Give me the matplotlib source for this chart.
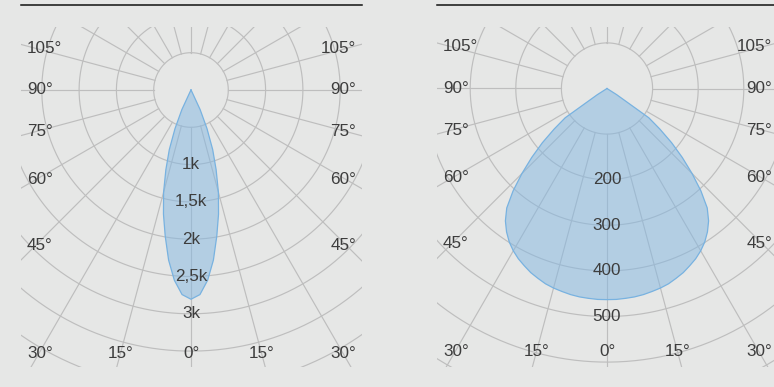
import numpy as np
import matplotlib
matplotlib.use("Agg")
import matplotlib.pyplot as plt
from matplotlib.lines import Line2D

# ---------------- data ----------------
left_angles = [0, 2.5, 5, 7.5, 10, 12.5, 15, 17.5, 20, 22.5, 25, 27.5, 30, 45, 60, 75, 90]
left_cd = [2805, 2745, 2560, 2300, 1990, 1705, 1420, 1120, 850, 560, 290, 20, 0, 0, 0, 0, 0]
left_rings = [500, 1000, 1500, 2000, 2500, 3000, 3500, 4000, 4500, 5000]
left_ring_labels = ["", "1k", "1,5k", "2k", "2,5k", "3k", "", "", "", ""]

right_angles = [0, 2.5, 5, 7.5, 10, 12.5, 15, 17.5, 20, 22.5, 25, 27.5, 30, 32.5,
                35, 37.5, 40, 42.5, 45, 47.5, 50, 52.5, 55, 57.5, 60, 75, 90]
right_cd = [463, 463, 462, 461, 459, 456, 453, 449, 443, 437, 429, 421, 411, 399,
            384, 366, 342, 305, 264, 224, 185, 146, 112, 25, 0, 0, 0]
right_rings = [100, 200, 300, 400, 500, 600, 700, 800]
right_ring_labels = ["", "200", "300", "400", "500", "", "", ""]

side_angle_labels = [105, 90, 75, 60, 45, 30]
bottom_angle_labels = [15, 0]

# ---------------- style ----------------
W, H = 774, 387
BG = "#e6e7e6"
GRID = "#bebebe"
FILL = "#82b7e2"
EDGE = "#78b2e0"
TXT = "#3d3d3d"
FONT = "Liberation Sans"
FS = 12.3

fig = plt.figure(figsize=(W / 100, H / 100), dpi=100, facecolor=BG)


def panel(x0, x1, cx, cy, s, angles, values, rings, ring_labels, line_x1):
    y0, y1 = 27, 367
    ax = fig.add_axes([x0 / W, 1 - y1 / H, (x1 - x0) / W, (y1 - y0) / H])
    ax.set_facecolor(BG)
    ax.set_xlim(-(cx - x0) / s, (x1 - cx) / s)
    ax.set_ylim(-(y1 - cy) / s, (cy - y0) / s)
    ax.axis("off")

    # rings
    t = np.linspace(0, 2 * np.pi, 400)
    for r in rings:
        ax.plot(r * np.sin(t), r * np.cos(t), color=GRID, lw=0.85, zorder=1)
    # spokes every 15 deg, starting at inner ring
    rin, rout = rings[0], rings[-1] * 1.5
    for a in range(0, 360, 15):
        th = np.radians(a)
        ax.plot([rin * np.sin(th), rout * np.sin(th)],
                [-rin * np.cos(th), -rout * np.cos(th)],
                color=GRID, lw=0.85, zorder=1)

    # light distribution curve (symmetric)
    ang = np.radians(np.array(angles, dtype=float))
    val = np.array(values, dtype=float)
    full_ang = np.concatenate([-ang[::-1], ang[1:]])
    full_val = np.concatenate([val[::-1], val[1:]])
    xs = full_val * np.sin(full_ang)
    ys = -full_val * np.cos(full_ang)
    ax.fill(xs, ys, color=FILL, alpha=0.5, lw=0, zorder=2)
    ax.plot(np.append(xs, xs[0]), np.append(ys, ys[0]), color=EDGE, lw=0.9,
            zorder=3, solid_joinstyle="round")

    # ring value labels
    for r, lab in zip(rings, ring_labels):
        if lab:
            ax.text(0, -r, lab, ha="center", va="center", fontsize=FS,
                    family=FONT, color=TXT, zorder=4)

    # angle labels (pixel layout converted to data units)
    for a in side_angle_labels:
        if a >= 45:
            dy = 155 / np.tan(np.radians(a))
        else:
            dy = 263
        for ha, dx in (("left", -164), ("right", 165)):
            ax.text(dx / s, -dy / s, f"{a}°", ha=ha, va="center",
                    fontsize=FS, family=FONT, color=TXT, clip_on=False, zorder=4)
    for a in bottom_angle_labels:
        dx = 263 * np.tan(np.radians(a))
        for side in ((-1, 1) if a else (1,)):
            ax.text(side * dx / s, -263 / s, f"{a}°", ha="center", va="center",
                    fontsize=FS, family=FONT, color=TXT, clip_on=False, zorder=4)

    # top rule
    fig.add_artist(Line2D([x0 / W, line_x1 / W], [1 - 4.5 / H] * 2,
                          color="#111111", lw=1.1))


panel(21, 362, 191, 90, 37.3 / 500, left_angles, left_cd,
      left_rings, left_ring_labels, 362)
panel(437, 778, 607, 88.5, 45.6 / 100, right_angles, right_cd,
      right_rings, right_ring_labels, 774)

fig.savefig("out.png", dpi=100, facecolor=BG)
